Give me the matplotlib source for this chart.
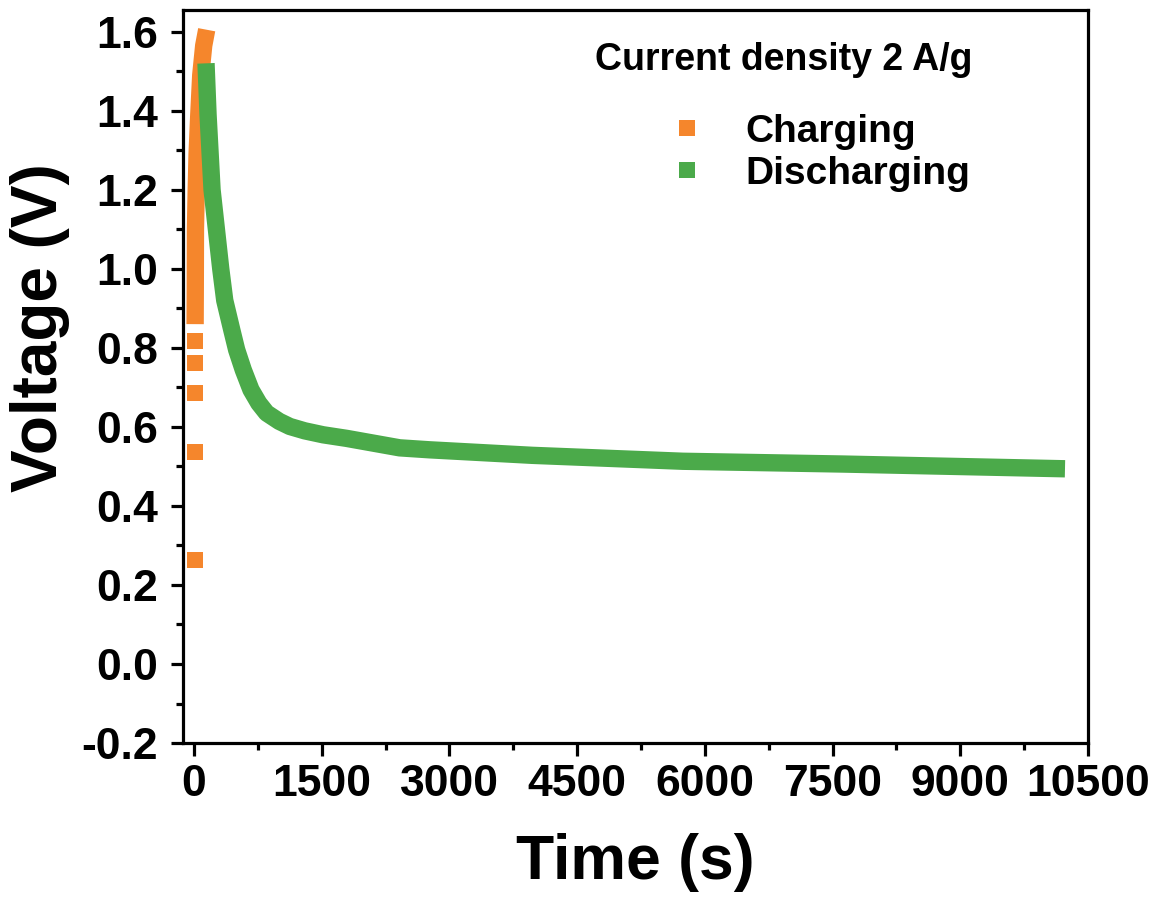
import matplotlib
matplotlib.use("Agg")
import matplotlib.pyplot as plt
from matplotlib.lines import Line2D
from matplotlib.ticker import MultipleLocator, FormatStrFormatter

plt.rcParams["font.family"] = ["Liberation Sans", "DejaVu Sans"]
plt.rcParams["font.weight"] = "bold"
plt.rcParams["axes.unicode_minus"] = False

COLOR_CHG = "#F5862C"
COLOR_DIS = "#4BAA4A"

# charging: isolated early readings, then the continuous rise
chg_t_start = [10, 10, 10, 10, 10]
chg_v_start = [0.263, 0.537, 0.686, 0.762, 0.818]
chg_t = [12, 14, 16, 25, 35, 55, 78, 113, 148]
chg_v = [0.86, 0.95, 1.10, 1.20, 1.29, 1.39, 1.49, 1.565, 1.605]

# discharging curve
dis_t = [140, 164, 211, 313, 360, 442, 500, 578, 668, 760, 852, 1000,
         1125, 1300, 1516, 1790, 2414, 2766, 3973, 5742, 7617, 10230]
dis_v = [1.52, 1.39, 1.20, 1.00, 0.92, 0.846, 0.795, 0.744, 0.694, 0.66,
         0.635, 0.614, 0.601, 0.59, 0.580, 0.571, 0.547, 0.542, 0.528,
         0.513, 0.506, 0.494]

fig = plt.figure(figsize=(11.71, 8.99), dpi=100)
ax = fig.add_axes([0.1563, 0.1735, 0.7728, 0.8154])

lw = 12.5
ax.plot(chg_t, chg_v, color=COLOR_CHG, lw=lw, solid_capstyle="butt",
        solid_joinstyle="round")
ax.plot(chg_t_start, chg_v_start, "s", color=COLOR_CHG, ms=11.5, mew=0,
        ls="none")
ax.plot(dis_t, dis_v, color=COLOR_DIS, lw=lw, solid_capstyle="butt",
        solid_joinstyle="round")

ax.set_xlim(-130, 10500)
ax.set_ylim(-0.2, 1.655)
ax.xaxis.set_major_locator(MultipleLocator(1500))
ax.xaxis.set_minor_locator(MultipleLocator(750))
ax.yaxis.set_major_locator(MultipleLocator(0.2))
ax.yaxis.set_minor_locator(MultipleLocator(0.1))
ax.yaxis.set_major_formatter(FormatStrFormatter("%.1f"))

for s in ax.spines.values():
    s.set_linewidth(2.3)
ax.tick_params(which="major", direction="out", length=9, width=2.3,
               labelsize=32)
ax.tick_params(axis="y", which="major", pad=9)
ax.tick_params(axis="x", which="major", pad=6)
ax.tick_params(which="minor", direction="out", length=5, width=2.3)
for lab in ax.get_xticklabels() + ax.get_yticklabels():
    lab.set_fontweight("bold")

ax.set_xlabel("Time (s)", fontsize=45, fontweight="bold", labelpad=20)
ax.set_ylabel("Voltage (V)", fontsize=46, fontweight="bold")
ax.yaxis.set_label_coords(-0.125, 0.567)

ax.text(0.872, 0.918, "Current density 2 A/g", transform=ax.transAxes,
        ha="right", va="baseline", fontsize=27, fontweight="bold")

handles = [
    Line2D([], [], marker="s", ls="none", color=COLOR_CHG, ms=11.5, mew=0,
           label="Charging"),
    Line2D([], [], marker="s", ls="none", color=COLOR_DIS, ms=11.5, mew=0,
           label="Discharging"),
]
leg = ax.legend(handles=handles, loc="upper right",
                bbox_to_anchor=(0.891, 0.885), frameon=False, fontsize=28,
                handlelength=0.8, handletextpad=1.1, labelspacing=0.15,
                borderpad=0)
for t in leg.get_texts():
    t.set_fontweight("bold")

fig.savefig("out.png", dpi=100)
